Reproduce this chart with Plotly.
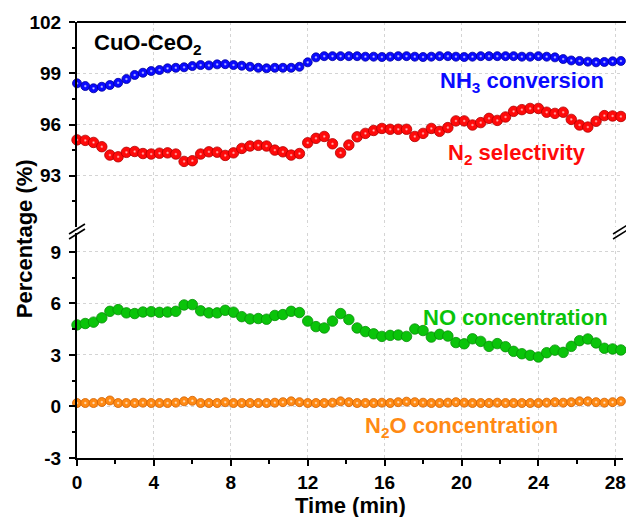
import plotly.graph_objects as go

# Sampling times (min)
time_min = [0.0, 0.43, 0.86, 1.29, 1.71, 2.14, 2.57, 3.0, 3.43, 3.86, 4.29, 4.71, 5.14, 5.57,
            6.0, 6.43, 6.86, 7.29, 7.71, 8.14, 8.57, 9.0, 9.43, 9.86, 10.29, 10.71, 11.14,
            11.57, 12.0, 12.43, 12.86, 13.29, 13.71, 14.14, 14.57, 15.0, 15.43, 15.86, 16.29,
            16.71, 17.14, 17.57, 18.0, 18.43, 18.86, 19.29, 19.71, 20.14, 20.57, 21.0, 21.43,
            21.86, 22.29, 22.71, 23.14, 23.57, 24.0, 24.43, 24.86, 25.29, 25.71, 26.14, 26.57,
            27.0, 27.43, 27.86, 28.29]

nh3_conversion = [98.41, 98.25, 98.12, 98.21, 98.31, 98.44, 98.66, 98.9, 99.03, 99.13, 99.19,
                  99.29, 99.32, 99.35, 99.42, 99.48, 99.46, 99.52, 99.53, 99.48, 99.44, 99.38,
                  99.32, 99.29, 99.32, 99.32, 99.32, 99.38, 99.64, 99.93, 100.0, 100.0, 100.0,
                  100.0, 100.0, 99.97, 99.97, 99.95, 99.97, 100.0, 100.0, 99.97, 99.95, 99.97,
                  100.0, 100.0, 99.97, 99.95, 99.97, 100.0, 100.0, 100.0, 100.0, 100.0, 99.97,
                  99.97, 100.0, 99.97, 99.93, 99.83, 99.75, 99.72, 99.68, 99.64, 99.66, 99.7,
                  99.72]

n2_selectivity = [95.1, 95.07, 94.95, 94.7, 94.21, 94.11, 94.37, 94.42, 94.3, 94.27, 94.32,
                  94.34, 94.27, 93.84, 93.88, 94.27, 94.4, 94.38, 94.19, 94.34, 94.6, 94.74,
                  94.78, 94.74, 94.5, 94.4, 94.21, 94.3, 94.93, 95.19, 95.3, 94.87, 94.34, 94.8,
                  95.28, 95.48, 95.65, 95.77, 95.72, 95.72, 95.72, 95.3, 95.48, 95.77, 95.6,
                  95.82, 96.21, 96.21, 95.97, 96.11, 96.36, 96.24, 96.44, 96.77, 96.87, 96.94,
                  96.94, 96.72, 96.65, 96.72, 96.3, 95.97, 95.85, 96.19, 96.52, 96.5, 96.47]

no_concentration = [4.75, 4.83, 4.91, 5.16, 5.54, 5.64, 5.45, 5.41, 5.5, 5.52, 5.48, 5.5, 5.54,
                    5.91, 5.93, 5.57, 5.45, 5.45, 5.6, 5.49, 5.23, 5.1, 5.12, 5.08, 5.3, 5.35,
                    5.54, 5.47, 4.97, 4.65, 4.57, 4.97, 5.41, 5.06, 4.57, 4.36, 4.23, 4.08, 4.14,
                    4.16, 4.08, 4.51, 4.42, 4.04, 4.2, 4.1, 3.72, 3.65, 3.94, 3.79, 3.5, 3.66,
                    3.48, 3.21, 3.07, 2.98, 2.88, 3.13, 3.28, 3.15, 3.5, 3.83, 3.93, 3.7, 3.39,
                    3.35, 3.29]

n2o_concentration = [0.2, 0.2, 0.2, 0.26, 0.35, 0.2, 0.2, 0.2, 0.22, 0.2, 0.2, 0.2, 0.22, 0.3,
                     0.33, 0.2, 0.2, 0.2, 0.25, 0.2, 0.2, 0.2, 0.2, 0.2, 0.22, 0.25, 0.3, 0.25,
                     0.2, 0.2, 0.2, 0.22, 0.3, 0.25, 0.2, 0.2, 0.2, 0.22, 0.2, 0.25, 0.28, 0.25,
                     0.22, 0.2, 0.2, 0.22, 0.25, 0.22, 0.2, 0.2, 0.2, 0.22, 0.2, 0.2, 0.2, 0.2,
                     0.2, 0.22, 0.25, 0.22, 0.25, 0.3, 0.3, 0.25, 0.22, 0.25, 0.3]

x_ticks = [0, 4, 8, 12, 16, 20, 24, 28]
x_minor = [2, 6, 10, 14, 18, 22, 26]
upper_ticks = [93, 96, 99, 102]
upper_minor = [91.5, 94.5, 97.5, 100.5]
lower_ticks = [-3, 0, 3, 6, 9]
lower_minor = [-1.5, 1.5, 4.5, 7.5]

BLUE = "#0a0aff"
RED = "#ff0a0a"
GREEN = "#0ac40a"
ORANGE = "#ff8a14"
FONT = "Liberation Sans, Arial, sans-serif"

W, H = 626, 517
ML, MR, MT, MB = 77, 0, 22, 59
PW, PH = W - ML - MR, H - MT - MB


def px(xp):
    return (xp - ML) / PW


def py(yp):
    return (H - MB - yp) / PH


fig = go.Figure()


def add_series(y, yaxis, color, edge, size, hl_size, hl_color):
    fig.add_trace(go.Scatter(
        x=time_min, y=y, yaxis=yaxis, mode="markers", cliponaxis=False,
        marker=dict(size=size, color=color, line=dict(color=edge, width=0.8)),
        hoverinfo="skip", showlegend=False))
    if hl_size:
        fig.add_trace(go.Scatter(
            x=time_min, y=y, yaxis=yaxis, mode="markers", cliponaxis=False,
            marker=dict(size=hl_size, color=color, line=dict(width=0),
                        gradient=dict(type="radial", color=hl_color)),
            hoverinfo="skip", showlegend=False))


add_series(n2o_concentration, "y", ORANGE, "#d06000", 9, 3.5, "#fff4e8")
add_series(no_concentration, "y", GREEN, "#079007", 10.5, 0, None)
add_series(n2_selectivity, "y2", RED, "#b00000", 10.5, 3.5, "#ffd0d0")
add_series(nh3_conversion, "y2", BLUE, "#0000a0", 9, 3.5, "#e8e8ff")

grid = dict(showgrid=True, gridcolor="#d4d4d4", gridwidth=1, griddash="dot")
tickfont = dict(family=FONT, size=19, color="black", weight="bold")

axis_common = dict(showline=True, linecolor="black", linewidth=2, ticks="outside",
                   ticklen=6, tickwidth=2, tickcolor="black", zeroline=False,
                   tickfont=tickfont, ticklabeloverflow="allow", **grid)

fig.update_layout(
    width=W, height=H,
    margin=dict(l=ML, r=MR, t=MT, b=MB),
    paper_bgcolor="white", plot_bgcolor="white",
    xaxis=dict(domain=[0, 1], range=[0, 28.4], anchor="y", tickmode="array",
               tickvals=x_ticks, ticktext=[str(v) for v in x_ticks], ticklabelstandoff=0,
               minor=dict(tickvals=x_minor, ticks="outside", ticklen=3.5, tickwidth=2,
                          tickcolor="black", showgrid=False),
               **axis_common),
    yaxis=dict(domain=[0, py(233)], range=[-3, 10.1], anchor="x", tickmode="array",
               tickvals=lower_ticks, ticktext=[str(v) for v in lower_ticks],
               ticklabelstandoff=4,
               minor=dict(tickvals=lower_minor, ticks="outside", ticklen=3.5, tickwidth=2,
                          tickcolor="black", showgrid=False),
               **axis_common),
    yaxis2=dict(domain=[py(227), 1], range=[90, 102], anchor="x", tickmode="array",
                tickvals=upper_ticks, ticktext=[str(v) for v in upper_ticks],
                ticklabelstandoff=4,
                minor=dict(tickvals=upper_minor, ticks="outside", ticklen=3.5, tickwidth=2,
                           tickcolor="black", showgrid=False),
                **axis_common),
)

# frame top edge
fig.add_shape(type="line", xref="paper", yref="paper", x0=0, x1=1.02, y0=1, y1=1,
              line=dict(color="black", width=2), layer="above")

# axis break marks (left and right)
for cx in (px(77), px(624)):
    for dy in (0, 5):
        fig.add_shape(type="line", xref="paper", yref="paper",
                      x0=cx - 8 / PW, x1=cx + 8 / PW,
                      y0=py(234 + dy), y1=py(224 + dy),
                      line=dict(color="black", width=1.6), layer="above")

labels = [
    ("CuO-CeO<sub>2</sub>", 92, 44, "black"),
    ("NH<sub>3</sub> conversion", 440, 82, BLUE),
    ("N<sub>2</sub> selectivity", 448, 154, RED),
    ("NO concentration", 423, 318, GREEN),
    ("N<sub>2</sub>O concentration", 365, 427, ORANGE),
]
for text, xp, yp, col in labels:
    fig.add_annotation(text=text, xref="paper", yref="paper", x=px(xp), y=py(yp),
                       xanchor="left", yanchor="middle", showarrow=False,
                       font=dict(family=FONT, size=22, color=col, weight="bold"))

fig.add_annotation(text="Time (min)", xref="paper", yref="paper", x=0.5, y=py(505),
                   xanchor="center", yanchor="middle", showarrow=False,
                   font=dict(family=FONT, size=22, color="black", weight="bold"))
fig.add_annotation(text="Percentage (%)", xref="paper", yref="paper", x=px(25), y=py(239),
                   xanchor="center", yanchor="middle", textangle=-90, showarrow=False,
                   font=dict(family=FONT, size=22, color="black", weight="bold"))

fig.write_html("out.html")
